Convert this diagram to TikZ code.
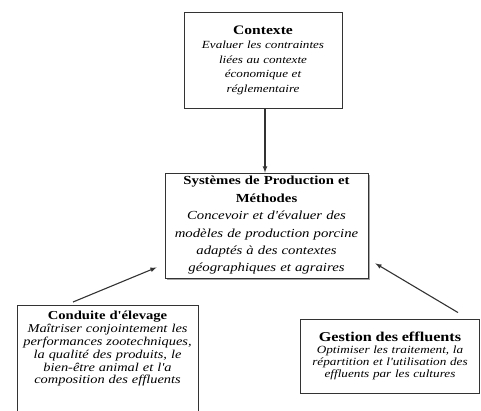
\documentclass[tikz,border=0pt]{standalone}
\usepackage{fontspec}
\setmainfont[FakeStretch=1.2,Ligatures=TeXOff]{Liberation Serif}
\usetikzlibrary{arrows,shadows}
\tikzset{
  Kasten/.style={draw=black!80,line width=0.9pt,fill=white,align=center,inner xsep=2pt,inner ysep=3pt},
  Fleche/.style={line width=1.1pt,black!80,->,>=latex}% pour les fleches
}

\begin{document}
\begin{tikzpicture}[x=1pt,y=-1pt]

\useasboundingbox (0,0) rectangle (481,410);
\clip (0,0) rectangle (481,410);

% % les quatre boites
\node[Kasten,minimum width=158pt,minimum height=96pt,text width=150pt,
      font=\fontsize{10.9}{14.5}\selectfont\itshape] (ctx) at (263,60)
  {{\fontsize{13}{16}\selectfont\bfseries\upshape Contexte}\\
   Evaluer les contraintes\\ liées au contexte\\ économique et\\ réglementaire};

\node[Kasten,minimum width=203pt,minimum height=105pt,text width=199pt,
      drop shadow={shadow xshift=1.6pt,shadow yshift=-1.6pt,fill=gray!70,opacity=1},
      font=\fontsize{12.3}{17.4}\selectfont\itshape] (sys) at (266.5,225.5)
  {{\bfseries\upshape Systèmes de Production et}\\
   {\bfseries\upshape Méthodes}\\
   Concevoir et d'évaluer des\\ modèles de production porcine\\
   adaptés à des contextes\\ géographiques et agraires};

\node[Kasten,anchor=north,minimum width=181pt,text width=177pt,inner ysep=6pt,
      text depth=95pt,font=\fontsize{12}{12.8}\selectfont\itshape] (cond) at (107.5,305)
  {{\fontsize{12.2}{13}\selectfont\bfseries\upshape Conduite d'élevage}\\
   Maîtriser conjointement les\\ performances zootechniques,\\
   la qualité des produits, le\\ bien-être animal et l'a\\ composition des effluents};

\node[Kasten,minimum width=179pt,minimum height=74pt,text width=175pt,
      font=\fontsize{11}{12}\selectfont\itshape] (gest) at (390,356)
  {{\fontsize{13.5}{14}\selectfont\bfseries\upshape Gestion des effluents}\\
   Optimiser les traitement, la\\ répartition et l'utilisation des\\
   effluents par les cultures};

% % fleches
\draw[Fleche] (ctx.south -| 265,0) -- (sys.north -| 265,0);
\draw[Fleche] ([xshift=-34.5pt,yshift=3pt]cond.north) -- ([xshift=-8pt,yshift=11pt]sys.south west);
\draw[Fleche] ([xshift=68pt,yshift=6pt]gest.north) -- ([xshift=7pt,yshift=15pt]sys.south east);

\end{tikzpicture}
\end{document}
